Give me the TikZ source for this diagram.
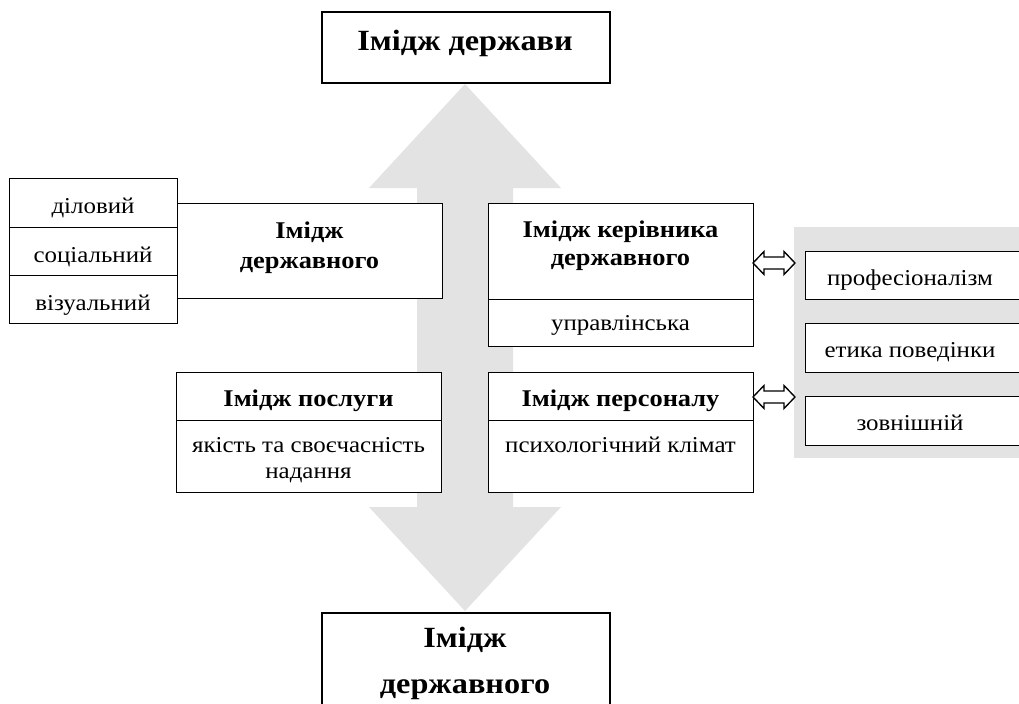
\documentclass[tikz,border=0pt]{standalone}
\usepackage{fontspec}
\setmainfont[FakeStretch=1.1]{Liberation Serif}
\definecolor{lgray}{RGB}{227,227,227}
\begin{document}
\begin{tikzpicture}[x=0.75pt,y=-0.75pt,
 box/.style={draw, fill=white, line width=1pt, inner sep=0pt, anchor=north west},
 reg/.style={font=\fontsize{17}{18.75}\selectfont, anchor=base, inner sep=0pt, align=center},
 bld/.style={font=\fontsize{18}{22}\bfseries\selectfont, anchor=base, inner sep=0pt},
 ttl/.style={font=\fontsize{22}{30}\bfseries\selectfont, anchor=base, inner sep=0pt},
 dbl/.style={draw, fill=white, line width=1pt, line join=miter}
]
\useasboundingbox (0,0) rectangle (1019,703);
\clip (0,0) rectangle (1019,703);

% big two-headed arrow
\fill[lgray] (465,84) -- (561,188) -- (513,188) -- (513,507) -- (561,507) -- (465,611) -- (369,507) -- (417,507) -- (417,188) -- (369,188) -- cycle;

% top box
\node[box, line width=1.2pt, minimum width=216pt, minimum height=53.25pt] (top) at (321,11) {};
\node[ttl] (toptxt) at (465,50) {Імідж держави};

% bottom box
\node[box, line width=1.2pt, minimum width=216pt, minimum height=90pt] (bot) at (321,612) {};
\node[ttl] (bottxt1) at (465,647) {Імідж};
\node[ttl] (bottxt2) at (465,693) {державного};

% left group
\node[box, minimum width=126pt, minimum height=36.75pt] (l1) at (9,178) {};
\node[box, minimum width=126pt, minimum height=36pt] (l2) at (9,227) {};
\node[box, minimum width=126pt, minimum height=36pt] (l3) at (9,275) {};
\node[reg] (l1t) at (93,213) {діловий};
\node[reg] (l2t) at (93,262) {соціальний};
\node[reg] (l3t) at (93,310) {візуальний};
\node[box, minimum width=198.75pt, minimum height=71.25pt] (lb) at (177,203) {};
\node[bld] (lbt1) at (309.5,238) {Імідж};
\node[bld] (lbt2) at (309.5,268) {державного};

% right upper group
\node[box, minimum width=198.75pt, minimum height=72pt] (rk) at (488,203) {};
\node[box, minimum width=198.75pt, minimum height=35.25pt] (rk2) at (488,299) {};
\node[bld] (rkt1) at (620.5,237) {Імідж керівника};
\node[bld] (rkt2) at (620.5,265) {державного};
\node[reg] (rk2t) at (620.5,330) {управлінська};

% lower left group
\node[box, minimum width=198.75pt, minimum height=36pt] (ps) at (176,372) {};
\node[box, minimum width=198.75pt, minimum height=54pt] (ps2) at (176,420) {};
\node[bld] (pst) at (308.5,406) {Імідж послуги};
\node[reg] (ps2t1) at (308.5,452) {якість та своєчасність};
\node[reg] (ps2t2) at (308.5,478) {надання};

% lower right group
\node[box, minimum width=198.75pt, minimum height=36pt] (pr) at (488,372) {};
\node[box, minimum width=198.75pt, minimum height=54pt] (pr2) at (488,420) {};
\node[bld] (prt) at (620.5,406) {Імідж персоналу};
\node[reg] (pr2t) at (620.5,452) {психологічний клімат};

% grey panel
\node[fill=lgray, inner sep=0pt, anchor=north west, minimum width=177pt, minimum height=173.25pt] (panel) at (794,227) {};
\node[box, minimum width=172.5pt, minimum height=36pt] (p1) at (805,251) {};
\node[box, minimum width=172.5pt, minimum height=36.75pt] (p2) at (805,323) {};
\node[box, minimum width=172.5pt, minimum height=36.75pt] (p3) at (805,396) {};
\node[reg] (p1t) at (910,285) {професіоналізм};
\node[reg] (p2t) at (910,357) {етика поведінки};
\node[reg] (p3t) at (910,430) {зовнішній};

% hollow double arrows
\foreach \c in {263,397}{
  \draw[dbl] (753,\c) -- (764,\c-11.5) -- (764,\c-6) -- (784,\c-6) -- (784,\c-11.5)
    -- (795,\c) -- (784,\c+11.5) -- (784,\c+6) -- (764,\c+6) -- (764,\c+11.5) -- cycle;
}
\end{tikzpicture}
\end{document}
